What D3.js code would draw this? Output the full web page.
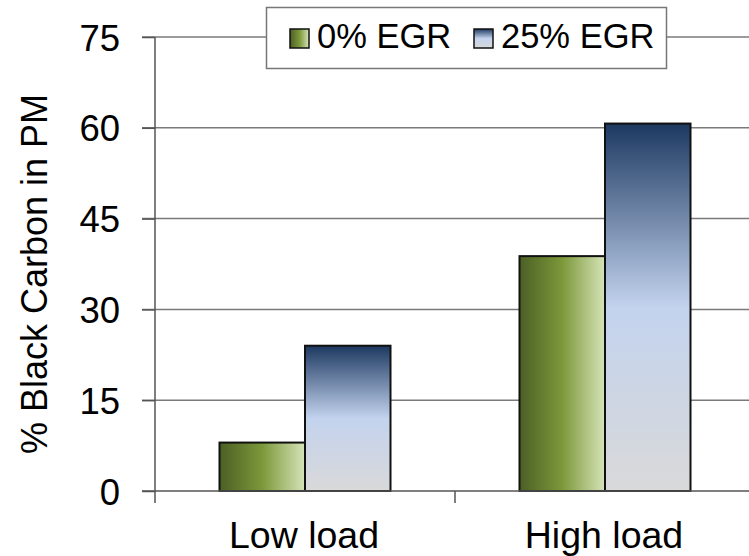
<!DOCTYPE html>
<html>
<head>
<meta charset="utf-8">
<script src="https://cdn.jsdelivr.net/npm/d3@7"></script>
<style>
  body { margin: 0; background: #fff; }
  text { font-family: "Liberation Sans", Arial, sans-serif; fill: #000; }
</style>
</head>
<body>
<div id="root"></div>
<script>
// chart data
const categories = ["Low load", "High load"];
const seriesNames = ["0% EGR", "25% EGR"];
const egr0 = [8, 38.8];
const egr25 = [24, 60.7];
const yTicks = [0, 15, 30, 45, 60, 75];

const width = 749, height = 556;
const margin = {top: 37, right: -6, bottom: 65, left: 155};

const svg = d3.select("#root").append("svg")
  .attr("width", width)
  .attr("height", height);

const defs = svg.append("defs");

// green: horizontal fade, dark olive -> pale
const gGreen = defs.append("linearGradient")
  .attr("id", "gradGreen")
  .attr("x1", 0).attr("y1", 0).attr("x2", 1).attr("y2", 0);
gGreen.append("stop").attr("offset", "0%").attr("stop-color", "#4b5f25");
gGreen.append("stop").attr("offset", "50%").attr("stop-color", "#7c983a");
gGreen.append("stop").attr("offset", "100%").attr("stop-color", "#d6e4b8");

// blue: vertical fade, navy -> light blue -> grey
const gBlue = defs.append("linearGradient")
  .attr("id", "gradBlue")
  .attr("x1", 0).attr("y1", 0).attr("x2", 0).attr("y2", 1);
gBlue.append("stop").attr("offset", "0%").attr("stop-color", "#1d3961");
gBlue.append("stop").attr("offset", "50%").attr("stop-color", "#c3d3ee");
gBlue.append("stop").attr("offset", "100%").attr("stop-color", "#d9d9d9");

const fills = ["url(#gradGreen)", "url(#gradBlue)"];

const x0 = d3.scaleBand()
  .domain(categories)
  .range([margin.left, width - margin.right])
  .paddingInner(0.43)
  .paddingOuter(0.215);

const x1 = d3.scaleBand()
  .domain(seriesNames)
  .range([0, x0.bandwidth()]);

const y = d3.scaleLinear()
  .domain([0, 75])
  .range([height - margin.bottom, margin.top]);

// gridlines
svg.append("g")
  .selectAll("line")
  .data(yTicks.slice(1))
  .enter().append("line")
  .attr("x1", margin.left - 13)
  .attr("x2", width)
  .attr("y1", d => y(d))
  .attr("y2", d => y(d))
  .attr("stroke", "#7a7a7a")
  .attr("stroke-width", 1.5);

// y axis
const yAxis = svg.append("g")
  .attr("transform", "translate(" + margin.left + ",0)")
  .call(d3.axisLeft(y).tickValues(yTicks).tickSize(13).tickPadding(22));
yAxis.select(".domain").remove();
yAxis.selectAll(".tick line").attr("stroke", "#555").attr("stroke-width", 1.5);
yAxis.selectAll("text").style("font-size", "36.5px").attr("dy", "0.36em");
yAxis.append("line")
  .attr("x1", 0).attr("x2", 0)
  .attr("y1", y(75)).attr("y2", y(0) + 12)
  .attr("stroke", "#555").attr("stroke-width", 1.5);

// bars
const rows = categories.map((c, i) => ({cat: c, vals: [egr0[i], egr25[i]]}));
svg.append("g")
  .selectAll("g")
  .data(rows)
  .enter().append("g")
  .attr("transform", d => "translate(" + x0(d.cat) + ",0)")
  .selectAll("rect")
  .data(d => d.vals.map((v, j) => ({key: seriesNames[j], v: v, j: j})))
  .enter().append("rect")
  .attr("x", d => x1(d.key))
  .attr("y", d => y(d.v))
  .attr("width", x1.bandwidth())
  .attr("height", d => y(0) - y(d.v))
  .attr("fill", d => fills[d.j])
  .attr("stroke", "#111")
  .attr("stroke-width", 2);

// x axis
const base = y(0);
svg.append("line")
  .attr("x1", margin.left - 13).attr("x2", width)
  .attr("y1", base).attr("y2", base)
  .attr("stroke", "#555").attr("stroke-width", 1.5);
const step = x0.step();
svg.append("g")
  .selectAll("line")
  .data(categories.slice(1))
  .enter().append("line")
  .attr("x1", d => x0(d) - x0.paddingInner() * step / 2)
  .attr("x2", d => x0(d) - x0.paddingInner() * step / 2)
  .attr("y1", base).attr("y2", base + 12)
  .attr("stroke", "#555").attr("stroke-width", 1.5);

svg.append("g")
  .selectAll("text")
  .data(categories)
  .enter().append("text")
  .attr("x", d => x0(d) + x0.bandwidth() / 2 - 1)
  .attr("y", 548)
  .attr("text-anchor", "middle")
  .style("font-size", "37.5px")
  .text(d => d);

// y title
svg.append("text")
  .attr("transform", "translate(47,274) rotate(-90)")
  .attr("text-anchor", "middle")
  .style("font-size", "36px")
  .text("% Black Carbon in PM");

// legend
const legend = svg.append("g");
legend.append("rect")
  .attr("x", 266.5).attr("y", 7.5)
  .attr("width", 400).attr("height", 61)
  .attr("fill", "#fff")
  .attr("stroke", "#777")
  .attr("stroke-width", 1.5);
const legX = [290, 474];
const items = legend.selectAll("g.item")
  .data(seriesNames)
  .enter().append("g")
  .attr("class", "item")
  .attr("transform", (d, i) => "translate(" + legX[i] + ",0)");
items.append("rect")
  .attr("x", 0).attr("y", 29)
  .attr("width", 19).attr("height", 19)
  .attr("fill", (d, i) => fills[i])
  .attr("stroke", "#111")
  .attr("stroke-width", 1.5);
items.append("text")
  .attr("x", 27).attr("y", 48)
  .style("font-size", "34.5px")
  .text(d => d);
</script>
</body>
</html>
